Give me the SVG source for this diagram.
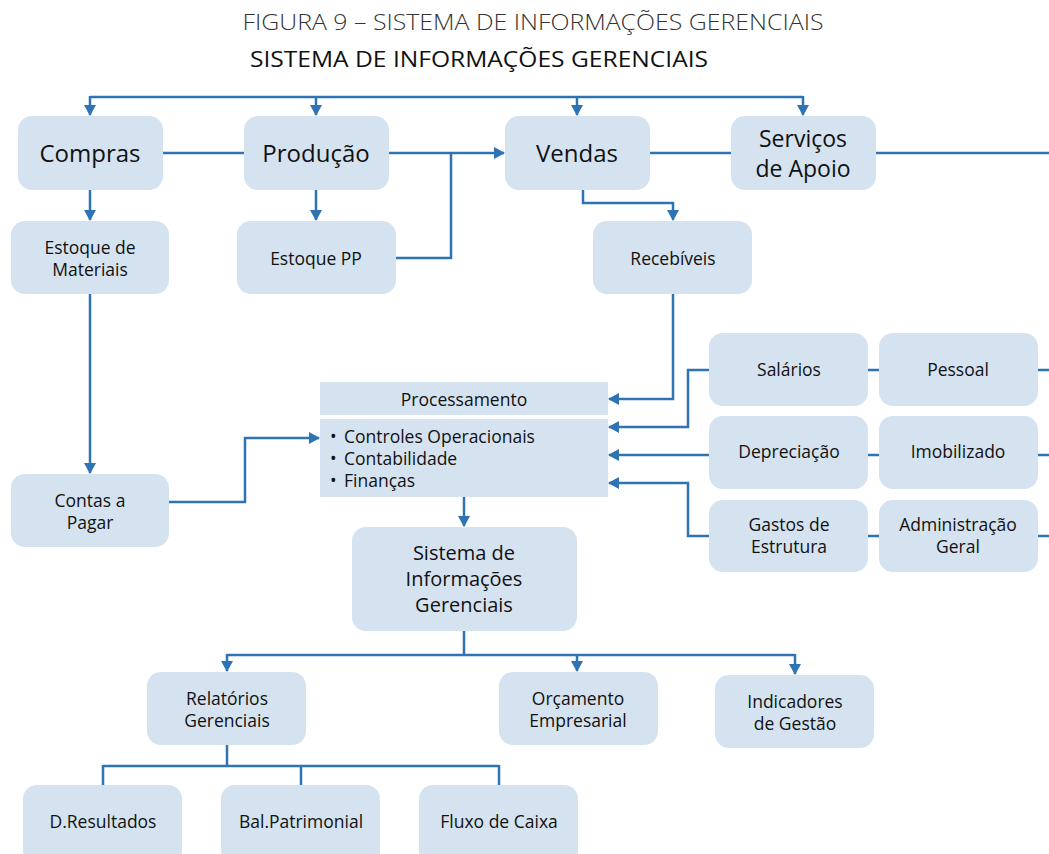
<svg xmlns="http://www.w3.org/2000/svg" width="1049" height="854" viewBox="0 0 1049 854">
<style>
.box{fill:#d5e3f0;}
.t{font-family:"Open Sans","Noto Sans",sans-serif;fill:#111;text-anchor:middle;}
.big{font-size:24px;}
.med{font-size:17.5px;}
.bul{font-size:17.5px;text-anchor:start;}
.sig{font-size:20px;}
.ln{fill:none;stroke:#2e74b5;stroke-width:2.5;}
</style>
<defs>
<marker id="ah" markerWidth="12" markerHeight="12" viewBox="0 0 12 12" refX="10" refY="6" orient="auto" markerUnits="userSpaceOnUse">
<path d="M0,0 L11,6 L0,12 Z" fill="#2e74b5"/>
</marker>
</defs>
<rect width="1049" height="854" fill="#fff"/>
<text class="t" x="533" y="30" textLength="581" lengthAdjust="spacingAndGlyphs" style="font-size:22px;font-weight:300;fill:#333">FIGURA 9 – SISTEMA DE INFORMAÇÕES GERENCIAIS</text>
<text class="t" x="479" y="67" textLength="458" lengthAdjust="spacingAndGlyphs" style="font-size:22px">SISTEMA DE INFORMAÇÕES GERENCIAIS</text>

<g id="connectors">
<path class="ln" d="M90,97 H803"/>
<path class="ln" d="M90,96 V115" marker-end="url(#ah)"/>
<path class="ln" d="M316,96 V115" marker-end="url(#ah)"/>
<path class="ln" d="M577,96 V115" marker-end="url(#ah)"/>
<path class="ln" d="M803,96 V115" marker-end="url(#ah)"/>
<path class="ln" d="M163,153 H244"/>
<path class="ln" d="M389,153 H504" marker-end="url(#ah)"/>
<path class="ln" d="M396,258 H451 V153"/>
<path class="ln" d="M650,153 H731"/>
<path class="ln" d="M876,153 H1049"/>
<path class="ln" d="M90,190 V220" marker-end="url(#ah)"/>
<path class="ln" d="M316,190 V220" marker-end="url(#ah)"/>
<path class="ln" d="M583,190 V203 H673 V220" marker-end="url(#ah)"/>
<path class="ln" d="M90,294 V473" marker-end="url(#ah)"/>
<path class="ln" d="M169,502 H245 V438 H319" marker-end="url(#ah)"/>
<path class="ln" d="M673,294 V399 H609" marker-end="url(#ah)"/>
<path class="ln" d="M709,370 H688 V427 H609" marker-end="url(#ah)"/>
<path class="ln" d="M709,455 H609" marker-end="url(#ah)"/>
<path class="ln" d="M709,536 H688 V483 H609" marker-end="url(#ah)"/>
<path class="ln" d="M868,370 H879 M1038,370 H1049"/>
<path class="ln" d="M868,455 H879 M1038,455 H1049"/>
<path class="ln" d="M868,536 H879 M1038,536 H1049"/>
<path class="ln" d="M464,497 V526" marker-end="url(#ah)"/>
<path class="ln" d="M464,631 V655 M227,655 H795"/>
<path class="ln" d="M227,654 V671" marker-end="url(#ah)"/>
<path class="ln" d="M577,654 V671" marker-end="url(#ah)"/>
<path class="ln" d="M795,654 V674" marker-end="url(#ah)"/>
<path class="ln" d="M227,745 V766 M103,766 H499 M103,765 V785 M301,765 V785 M499,765 V785"/>
</g>

<g id="compras"><rect class="box" x="18" y="116" width="145" height="74" rx="14"/><text class="t big" x="90" y="162">Compras</text></g>
<g id="producao"><rect class="box" x="244" y="116" width="145" height="74" rx="14"/><text class="t big" x="316" y="162">Produção</text></g>
<g id="vendas"><rect class="box" x="505" y="116" width="145" height="74" rx="14"/><text class="t big" x="577" y="162">Vendas</text></g>
<g id="servicos"><rect class="box" x="731" y="116" width="145" height="74" rx="14"/><text class="t" style="font-size:23px" x="803" y="147">Serviços</text><text class="t" style="font-size:23px" x="803" y="177">de Apoio</text></g>

<g id="estoque-materiais"><rect class="box" x="11" y="221" width="158" height="73" rx="14"/><text class="t med" x="90" y="254">Estoque de</text><text class="t med" x="90" y="276">Materiais</text></g>
<g id="estoque-pp"><rect class="box" x="237" y="221" width="159" height="73" rx="14"/><text class="t med" x="316" y="265">Estoque PP</text></g>
<g id="recebiveis"><rect class="box" x="593" y="221" width="159" height="73" rx="14"/><text class="t med" x="673" y="265">Recebíveis</text></g>

<g id="processamento">
<rect class="box" x="320" y="382" width="288" height="33"/>
<rect class="box" x="320" y="419" width="288" height="78"/>
<text class="t med" x="464" y="406">Processamento</text>
<text class="t bul" y="443"><tspan x="330">•</tspan><tspan x="344">Controles Operacionais</tspan></text>
<text class="t bul" y="465"><tspan x="330">•</tspan><tspan x="344">Contabilidade</tspan></text>
<text class="t bul" y="487"><tspan x="330">•</tspan><tspan x="344">Finanças</tspan></text>
</g>

<g id="contas-pagar"><rect class="box" x="11" y="474" width="158" height="73" rx="14"/><text class="t med" x="90" y="507">Contas a</text><text class="t med" x="90" y="529">Pagar</text></g>

<g id="salarios"><rect class="box" x="709" y="333" width="159" height="73" rx="14"/><text class="t med" x="789" y="376">Salários</text></g>
<g id="pessoal"><rect class="box" x="879" y="333" width="159" height="73" rx="14"/><text class="t med" x="958" y="376">Pessoal</text></g>
<g id="depreciacao"><rect class="box" x="709" y="416" width="159" height="73" rx="14"/><text class="t med" x="789" y="458">Depreciação</text></g>
<g id="imobilizado"><rect class="box" x="879" y="416" width="159" height="73" rx="14"/><text class="t med" x="958" y="458">Imobilizado</text></g>
<g id="gastos"><rect class="box" x="709" y="500" width="159" height="72" rx="14"/><text class="t med" x="789" y="531">Gastos de</text><text class="t med" x="789" y="553">Estrutura</text></g>
<g id="administracao"><rect class="box" x="879" y="500" width="159" height="72" rx="14"/><text class="t med" x="958" y="531">Administração</text><text class="t med" x="958" y="553">Geral</text></g>

<g id="sig"><rect class="box" x="352" y="527" width="225" height="104" rx="14"/><text class="t sig" x="464" y="560">Sistema de</text><text class="t sig" x="464" y="586">Informações</text><text class="t sig" x="464" y="612">Gerenciais</text></g>

<g id="relatorios"><rect class="box" x="147" y="672" width="159" height="73" rx="14"/><text class="t med" x="227" y="705">Relatórios</text><text class="t med" x="227" y="727">Gerenciais</text></g>
<g id="orcamento"><rect class="box" x="499" y="672" width="159" height="73" rx="14"/><text class="t med" x="578" y="705">Orçamento</text><text class="t med" x="578" y="727">Empresarial</text></g>
<g id="indicadores"><rect class="box" x="715" y="675" width="159" height="73" rx="14"/><text class="t med" x="795" y="708">Indicadores</text><text class="t med" x="795" y="730">de Gestão</text></g>

<g id="dresultados"><rect class="box" x="23" y="785" width="159" height="80" rx="14"/><text class="t med" x="103" y="828">D.Resultados</text></g>
<g id="balpatrimonial"><rect class="box" x="221" y="785" width="159" height="80" rx="14"/><text class="t med" x="301" y="828">Bal.Patrimonial</text></g>
<g id="fluxocaixa"><rect class="box" x="419" y="785" width="159" height="80" rx="14"/><text class="t med" x="499" y="828">Fluxo de Caixa</text></g>
</svg>
